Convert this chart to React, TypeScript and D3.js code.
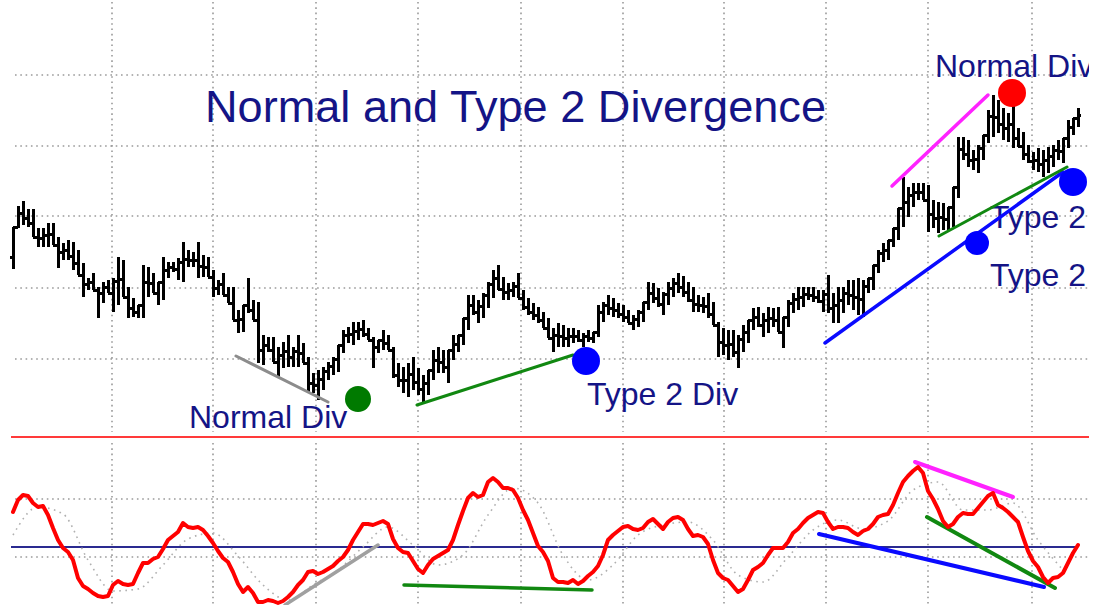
import React from 'react';
import * as d3 from 'd3';

// ---------- DATA ----------
// Price bars (one per session)
const HIGH = [
  17.3,19.4,19.9,19.1,19.1,17.2,17.2,17.7,17.7,16.3,
  15.7,16.0,15.8,15.0,13.7,12.2,12.7,11.3,11.8,12.0,
  12.2,14.3,14.0,11.3,10.2,9.5,13.5,13.3,12.7,11.8,
  14.3,13.8,13.8,14.2,15.8,15.0,14.8,15.8,14.5,14.3,
  13.0,12.0,12.7,11.3,11.3,9.0,9.5,12.2,10.0,9.8,
  6.5,6.3,6.3,5.3,5.8,6.5,5.3,6.5,5.7,4.3,
  2.7,3.0,3.3,3.8,4.3,5.5,7.0,7.3,7.8,7.8,
  8.0,7.2,6.3,6.0,7.0,6.5,5.3,3.7,3.3,3.7,
  4.3,3.2,2.5,3.0,5.0,5.3,5.0,5.0,6.5,6.5,
  8.2,10.5,10.5,10.0,10.7,11.8,13.0,13.5,12.3,11.7,
  11.8,12.7,11.0,10.2,9.7,9.3,8.8,8.2,7.2,7.7,
  7.5,7.2,7.2,7.0,6.7,7.0,6.8,9.5,9.8,10.5,
  10.2,9.7,9.5,9.0,8.5,9.0,9.8,11.8,11.7,11.2,
  10.8,11.8,12.2,12.7,12.4,11.8,11.3,10.5,10.3,10.7,
  9.8,7.8,7.2,7.0,7.0,6.5,7.5,8.0,9.2,9.3,
  8.7,9.3,9.2,9.3,8.3,10.0,10.7,11.3,11.3,11.3,
  11.3,11.0,11.0,12.5,10.7,11.3,11.3,12.0,12.0,12.2,
  12.0,12.2,13.5,15.0,15.7,16.0,17.2,19.2,22.3,21.3,
  21.7,21.7,21.7,21.5,20.0,19.8,19.7,19.3,21.3,26.3,
  26.3,26.0,25.0,25.5,26.5,29.0,30.5,30.0,29.2,28.7,
  30.0,27.2,26.8,25.5,24.8,25.2,25.0,25.3,25.5,26.0,
  26.2,28.0,28.2,29.2
];
const LOW = [
  13.1,17.2,17.5,17.3,16.3,15.3,15.3,15.3,15.5,13.2,
  14.0,14.0,13.0,12.5,10.3,11.0,11.0,8.2,9.7,10.7,
  8.8,9.5,10.3,8.2,8.3,8.2,8.2,10.3,10.7,9.5,
  10.0,12.2,12.8,12.0,11.8,13.3,13.3,12.2,12.3,12.3,
  10.3,10.5,10.5,9.7,8.0,6.7,6.8,8.7,8.0,3.7,
  3.5,4.8,3.8,2.3,3.2,3.3,3.3,3.3,3.7,0.7,
  0.7,0.0,1.0,2.0,2.5,2.8,4.7,5.7,5.5,6.0,
  6.3,6.0,3.2,4.7,5.0,5.0,2.2,1.3,0.7,0.3,
  1.0,0.5,-0.2,0.5,2.0,2.7,2.7,1.7,4.0,4.8,
  5.5,7.0,8.5,7.7,8.2,9.2,10.2,11.0,10.0,10.0,
  10.3,10.2,9.0,8.5,8.0,7.7,7.2,6.2,4.8,5.3,
  5.3,5.3,5.7,5.8,5.3,5.8,5.7,6.3,7.8,8.5,
  8.3,8.2,7.8,7.7,7.0,7.3,7.8,9.0,9.7,9.3,
  8.5,9.5,10.3,10.7,10.3,9.8,8.8,8.8,8.7,8.2,
  7.5,4.3,4.5,4.0,4.3,3.2,4.8,5.7,7.0,7.3,
  6.3,6.7,7.3,6.8,5.2,7.3,8.7,9.0,9.3,10.0,
  9.8,9.7,8.8,8.7,7.7,7.7,8.7,9.5,9.0,8.5,
  8.3,10.7,11.0,12.7,13.8,14.0,15.3,16.0,17.3,18.3,
  19.3,20.0,20.0,16.8,17.2,16.7,17.0,17.0,17.3,20.2,
  24.0,23.3,23.0,22.7,24.0,25.7,26.3,26.7,26.0,25.8,
  25.2,25.3,24.0,23.7,23.0,22.8,22.3,22.7,23.3,24.0,
  23.7,25.2,26.5,27.3
];
const CLOSE = [
  17.3,18.7,18.2,17.7,16.3,16.2,16.5,16.6,15.5,14.8,
  15.0,14.4,13.7,12.5,11.6,11.8,11.0,10.7,11.3,10.7,
  11.9,12.1,10.3,9.2,8.8,9.5,11.8,11.7,10.7,11.8,
  13.0,13.3,13.1,13.8,14.1,14.0,14.0,13.4,13.3,12.3,
  11.2,11.6,10.5,9.7,8.0,8.1,9.5,9.0,8.0,5.0,
  5.5,5.0,3.8,4.5,4.9,4.3,4.9,4.7,3.7,1.7,
  1.5,2.1,2.9,3.4,4.1,5.5,6.5,6.6,6.9,7.1,
  6.6,6.0,5.3,6.0,5.7,5.0,2.5,2.0,2.0,2.6,
  1.8,1.1,1.7,3.0,4.0,3.8,3.3,5.0,5.6,6.5,
  8.2,9.5,8.8,9.4,10.5,11.6,12.2,11.1,10.8,11.0,
  11.4,10.2,9.3,8.8,8.5,8.0,7.2,6.2,6.5,6.4,
  6.2,6.4,6.4,6.0,6.4,6.2,6.8,8.8,9.5,9.2,
  9.0,8.6,8.3,7.7,8.1,8.8,9.8,10.7,10.2,9.6,
  10.6,11.2,11.7,11.3,10.8,10.0,9.6,9.5,9.4,8.6,
  7.5,5.8,5.5,5.6,4.8,6.1,6.8,8.0,8.3,7.5,
  8.0,8.2,8.0,6.8,8.3,9.7,10.1,10.3,10.6,10.5,
  10.3,9.9,10.6,9.2,9.5,10.0,10.7,10.5,10.3,10.1,
  11.4,12.2,13.5,14.7,15.0,16.0,17.2,19.2,19.8,20.5,
  20.8,20.8,20.0,18.6,18.2,18.3,18.1,19.3,21.3,25.1,
  24.6,24.0,24.1,25.2,26.5,28.4,28.3,27.6,27.2,27.6,
  26.2,25.4,24.6,23.9,24.0,23.6,24.0,24.4,25.0,24.9,
  26.2,27.3,28.2,28.5
];
const FIRST_OPEN = 14.3;

// Oscillator, one value per bar
const OSC = [
  17.5,23.5,26,25.5,22,20,20.5,16,9.5,3.5,
  -0.5,-2.5,-6.5,-15.5,-19.5,-21,-23,-24.5,-25,-24.5,
  -19,-17,-18.5,-19,-18.5,-13,-8,-8,-6,-5,
  -1,3.5,5.5,7.5,12,10,9.5,10,8.5,5.5,
  2,-2,-5.5,-7.5,-12.5,-18.5,-22.5,-20,-23,-27.5,
  -27.5,-26.5,-27,-28,-27,-25,-22.5,-19,-16.5,-12.5,
  -12,-13.5,-12.5,-11,-9.5,-7,-5,-1.5,3.5,7.5,
  11.5,11.5,11,12,13,11.5,4,-0.5,-2.5,-3,
  -7,-11,-13,-9,-6,-4.5,-3,-1.5,3.5,11,
  18,24.5,27,25,26,32.5,34.5,32.5,29.5,29.5,
  28.5,24.5,18.5,13.5,7,0.5,-2.5,-7,-15.5,-17.5,
  -17.5,-18,-16.5,-18.5,-17,-14.5,-12.5,-9.5,-4,3.5,
  6,8,10,10.5,9,8.5,9.5,12.5,14,11.5,
  9,12.5,14.5,15,13.5,9,5.5,6,5,1.5,
  -6.5,-13,-15.5,-16.5,-19.5,-22.5,-21,-16.5,-11.5,-10,
  -8,-4,-0.5,-0.5,-0.5,2.5,7,9,12,14.5,
  16,17.5,17,12.5,9,10,10,9.5,7.5,6,
  8,9,11.5,15,16,16.5,21,27,32.5,35.5,
  38,40,37,28,24,19,13,10,11.5,15,
  17,16.5,16.5,19.5,22.5,25.5,27,21,19.5,17.5,
  15,12.5,5,-2,-7,-10,-15,-18,-15.5,-15,
  -13,-8,-3,1
];
// Signal line, sampled every 5th bar
const SIGNAL_STEP = 5;
const SIGNAL = [
  6,20,16.5,-6.5,-22,-21,-9,4,7,-4.5,
  -19,-26.5,-19,-11.5,0,10,1,-9,-4,16,
  29.5,22,-4,-16.5,-9,6,11,12.5,3.5,-14,
  -17.5,-5,8.5,13.5,9,13,28.5,32.5,18.5,18.5,
  22,3.5,-11.5
];

// Grid levels
const PRICE_GRID = [32.5, 25.4, 18.4, 11.2, 4.1];
const OSC_GRID = [24, -5];
const OSC_ZERO = 0;
const TIME_GRID = [19.8, 40, 60.6, 81, 101.6, 122, 142.2, 162.6, 183, 203.8];

// Annotations: [barIndex1, value1, barIndex2, value2]
const PRICE_TRENDS = [
  [44.6, 4.4, 63, -0.2],
  [80.8, -0.5, 112, 4.5],
  [175.8, 21.4, 195, 30.5],
  [162.4, 5.7, 210, 22.8],
  [185.2, 16.4, 210.8, 23.3],
];
const OSC_TRENDS = [
  [54.4, -29, 73, 1],
  [78.2, -19, 115.8, -21.5],
  [161.2, 6.5, 206.2, -20],
  [182.8, 15, 208.4, -20.5],
  [180.4, 42.5, 200, 25],
];
const SIGNAL_DOTS = [
  [69, 0.1],
  [114.6, 3.9],
  [199.8, 30.7],
  [212, 21.8],
  [192.8, 15.7],
];
const LABELS = ['Normal Div', 'Type 2 Div', 'Normal Div', 'Type 2', 'Type 2'];
const LABEL_POS = [
  [35.2, -2.8],
  [114.8, -0.5],
  [184.4, 32.3],
  [195.4, 17.2],
  [195.4, 11.4],
];
const TITLE = 'Normal and Type 2 Divergence';

// ---------- STYLES ----------
const PRICE_TREND_COLORS = ['#8c8c8c', '#118811', '#ff22ff', '#0a0aff', '#118811'];
const PRICE_TREND_WIDTHS = [3, 3, 3.5, 3.5, 3];
const OSC_TREND_COLORS = ['#a0a0a0', '#118811', '#0a0aff', '#118811', '#ff22ff'];
const OSC_TREND_WIDTHS = [3.5, 3.5, 4, 4, 4];
const DOT_COLORS = ['#007a00', '#0000ff', '#ff0000', '#0000ff', '#0000ff'];
const DOT_R = [13, 14, 14, 14, 12];

const W = 1093;
const H = 605;
const FONT = '"Liberation Sans", Arial, Helvetica, sans-serif';
const NAVY = '#141486';

export default function App() {
  const n = HIGH.length;
  const x = d3.scaleLinear().domain([0, n - 1]).range([13, 1078]);
  const yP = d3.scaleLinear().domain([0, 40]).range([400, 0]);
  const yO = d3.scaleLinear().domain([-30, 55]).range([607, 437]);

  const tick = 3;
  let barPath = '';
  for (let i = 0; i < n; i++) {
    const xi = Math.round(x(i));
    const open = i === 0 ? FIRST_OPEN : Math.max(LOW[i], Math.min(HIGH[i], CLOSE[i - 1]));
    barPath += `M${xi},${yP(HIGH[i])}V${yP(LOW[i])}`;
    barPath += `M${xi - tick},${yP(open)}H${xi}`;
    barPath += `M${xi},${yP(CLOSE[i])}H${xi + tick}`;
  }

  const oscLine = d3
    .line<number>()
    .x((_, i) => x(i))
    .y((v) => yO(v))(OSC) as string;

  const sigLine = d3
    .line<number>()
    .x((_, i) => x(i * SIGNAL_STEP))
    .y((v) => yO(v))
    .curve(d3.curveMonotoneX)(SIGNAL) as string;

  const gridStyle = {
    stroke: '#9a9a9a',
    strokeWidth: 1.6,
    strokeDasharray: '1.6 3.7',
    fill: 'none',
  };

  return (
    <div style={{ position: 'absolute', left: 0, top: 0, width: W, height: H }}>
      <svg width={W} height={H} viewBox={`0 0 ${W} ${H}`} style={{ display: 'block', background: '#fff' }}>
        <defs>
          <clipPath id="plotClip">
            <rect x={0} y={0} width={1089} height={H} />
          </clipPath>
          <clipPath id="oscClip">
            <rect x={0} y={438} width={1089} height={H - 438} />
          </clipPath>
        </defs>
        <rect x={0} y={0} width={W} height={H} fill="#fff" />
        <g clipPath="url(#plotClip)">
          {/* grid: upper panel */}
          {PRICE_GRID.map((p, k) => (
            <line key={'pg' + k} x1={15} x2={1090} y1={yP(p)} y2={yP(p)} style={gridStyle} />
          ))}
          {TIME_GRID.map((t, k) => (
            <line key={'tg' + k} x1={x(t)} x2={x(t)} y1={2} y2={432} style={gridStyle} />
          ))}
          {/* grid: lower panel */}
          {OSC_GRID.map((v, k) => (
            <line key={'og' + k} x1={15} x2={1090} y1={yO(v)} y2={yO(v)} style={gridStyle} />
          ))}
          {TIME_GRID.map((t, k) => (
            <line key={'tg2' + k} x1={x(t)} x2={x(t)} y1={443} y2={H} style={gridStyle} />
          ))}

          {/* title */}
          <text
            x={205}
            y={122}
            fontFamily={FONT}
            fontSize={45}
            fill={NAVY}
            textLength={621}
            lengthAdjust="spacingAndGlyphs"
          >
            {TITLE}
          </text>

          {/* labels */}
          {LABELS.map((t, k) => (
            <text
              key={'lb' + k}
              x={x(LABEL_POS[k][0])}
              y={yP(LABEL_POS[k][1])}
              fontFamily={FONT}
              fontSize={32}
              fill={NAVY}
            >
              {t}
            </text>
          ))}

          {/* price bars */}
          <path d={barPath} stroke="#000" strokeWidth={3} fill="none" shapeRendering="crispEdges" />

          {/* price trendlines */}
          {PRICE_TRENDS.map((s, k) => (
            <line
              key={'pt' + k}
              x1={x(s[0])}
              y1={yP(s[1])}
              x2={x(s[2])}
              y2={yP(s[3])}
              stroke={PRICE_TREND_COLORS[k]}
              strokeWidth={PRICE_TREND_WIDTHS[k]}
              strokeLinecap="round"
            />
          ))}

          {/* signal dots */}
          {SIGNAL_DOTS.map((d, k) => (
            <circle key={'dt' + k} cx={x(d[0])} cy={yP(d[1])} r={DOT_R[k]} fill={DOT_COLORS[k]} />
          ))}

          {/* separator */}
          <line x1={11} x2={1090} y1={437} y2={437} stroke="#ff3a3a" strokeWidth={2} />

          {/* oscillator */}
          <g clipPath="url(#oscClip)">
            <line x1={11} x2={x(n - 1)} y1={yO(OSC_ZERO)} y2={yO(OSC_ZERO)} stroke="#2a2a90" strokeWidth={2.2} />
            <path d={sigLine} stroke="#b0b0b0" strokeWidth={1.6} strokeDasharray="1.6 4.5" fill="none" />
            {OSC_TRENDS.map((s, k) => (
              <line
                key={'ot' + k}
                x1={x(s[0])}
                y1={yO(s[1])}
                x2={x(s[2])}
                y2={yO(s[3])}
                stroke={OSC_TREND_COLORS[k]}
                strokeWidth={OSC_TREND_WIDTHS[k]}
                strokeLinecap="round"
              />
            ))}
            <path d={oscLine} stroke="#ff0000" strokeWidth={4} fill="none" strokeLinejoin="round" strokeLinecap="round" />
          </g>
        </g>
      </svg>
    </div>
  );
}
